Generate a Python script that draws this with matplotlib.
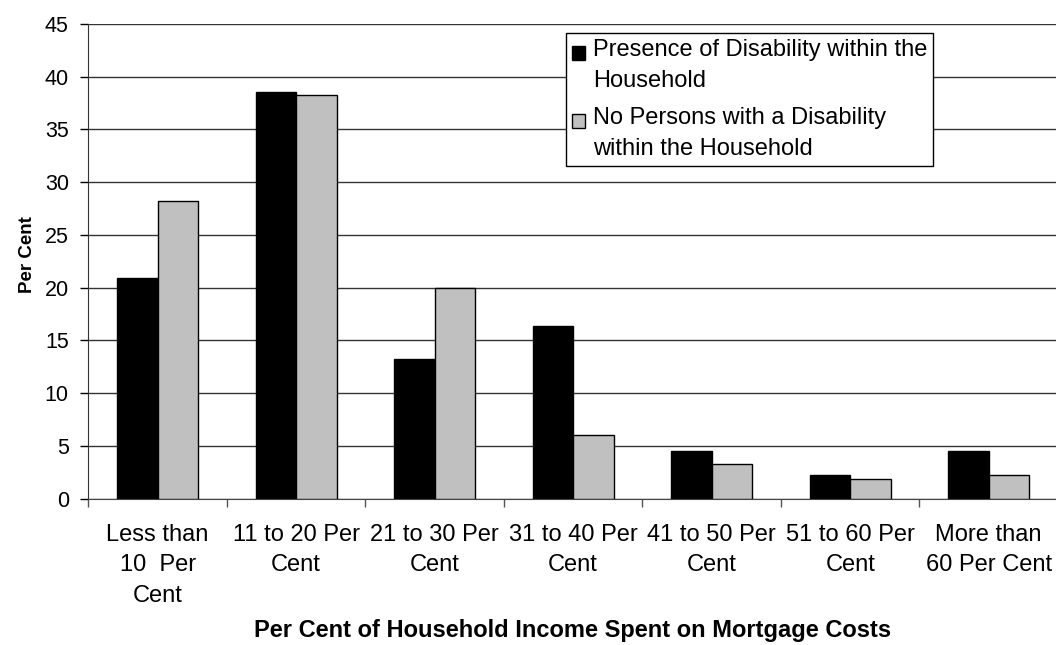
import matplotlib
matplotlib.use("Agg")
import matplotlib.pyplot as plt
import numpy as np
from matplotlib.patches import Rectangle
from matplotlib.container import BarContainer
from matplotlib.legend_handler import HandlerPatch, update_from_first_child
from matplotlib.ticker import FixedLocator, NullFormatter

plt.rcParams['font.family'] = ['Liberation Sans', 'DejaVu Sans']

categories = [
    "Less than\n10  Per\nCent",
    "11 to 20 Per\nCent",
    "21 to 30 Per\nCent",
    "31 to 40 Per\nCent",
    "41 to 50 Per\nCent",
    "51 to 60 Per\nCent",
    "More than\n60 Per Cent",
]
with_disability = [20.9, 38.6, 13.2, 16.4, 4.5, 2.2, 4.5]
without_disability = [28.2, 38.3, 20.0, 6.0, 3.3, 1.9, 2.2]
series_labels = [
    "Presence of Disability within the\nHousehold",
    "No Persons with a Disability\nwithin the Household",
]
y_ticks = list(range(0, 50, 5))

W, H = 1056, 645
left_px, right_px, top_px, bottom_px = 88.3, 1058.0, 24.0, 498.7
fig = plt.figure(figsize=(W / 100, H / 100), dpi=100)
ax = fig.add_axes([left_px / W, 1 - bottom_px / H,
                   (right_px - left_px) / W, (bottom_px - top_px) / H])

x = np.arange(len(categories))
bw = 0.292
b1 = ax.bar(x - bw / 2, with_disability, bw, color="black", edgecolor="black",
            linewidth=1.0, label=series_labels[0], zorder=3)
b2 = ax.bar(x + bw / 2, without_disability, bw, color="#C0C0C0", edgecolor="black",
            linewidth=1.0, label=series_labels[1], zorder=3)

ax.set_xlim(-0.5, len(categories) - 0.5)
ax.set_ylim(0, 45)
ax.set_yticks(y_ticks)
ax.yaxis.grid(True, color="#333333", linewidth=1.0, zorder=0)
ax.set_axisbelow(True)

ax.set_xticks(x)
ax.set_xticklabels(categories, fontsize=17, linespacing=1.5)
ax.xaxis.set_minor_locator(FixedLocator(np.arange(-0.5, len(categories), 1.0)))
ax.xaxis.set_minor_formatter(NullFormatter())
ax.tick_params(axis="x", which="major", length=0, pad=18)
ax.tick_params(axis="x", which="minor", length=6, width=1, color="#555555", direction="out")
ax.tick_params(axis="y", length=6, width=1, direction="out", labelsize=15.5, pad=8)

for side in ["top", "right"]:
    ax.spines[side].set_visible(False)
ax.spines["left"].set_color("#333333")
ax.spines["bottom"].set_color("#444444")

axw, axh = right_px - left_px, bottom_px - top_px
ax.set_ylabel("Per Cent", fontsize=13.5, fontweight="bold")
ax.yaxis.set_label_coords((27 - left_px) / axw, (bottom_px - 255) / axh)
ax.yaxis.label.set_verticalalignment("center")
ax.set_xlabel("Per Cent of Household Income Spent on Mortgage Costs",
              fontsize=17, fontweight="bold")
ax.xaxis.set_label_coords((573 - left_px) / axw, (bottom_px - 630) / axh)
ax.xaxis.label.set_verticalalignment("center")


def top_square(legend, orig_handle, xdescent, ydescent, width, height, fontsize):
    # legend key sits beside the first line of a two-line label
    return Rectangle((-xdescent, -ydescent + 0.55 * fontsize), width, height)


bar_handler = HandlerPatch(patch_func=top_square, update_func=update_from_first_child)
leg = fig.legend(handles=[b1, b2], loc="upper left",
                 bbox_to_anchor=(565.7 / W, 1 - 33.3 / H), bbox_transform=fig.transFigure,
                 borderaxespad=0, fontsize=17, fancybox=False, framealpha=1,
                 edgecolor="black", handlelength=0.55, handleheight=0.55,
                 handletextpad=0.35, labelspacing=0.66, borderpad=0.25,
                 handler_map={BarContainer: bar_handler})
leg.get_frame().set_linewidth(1.0)
for t in leg.get_texts():
    t.set_linespacing(1.5)

fig.savefig("out.png", dpi=100)
